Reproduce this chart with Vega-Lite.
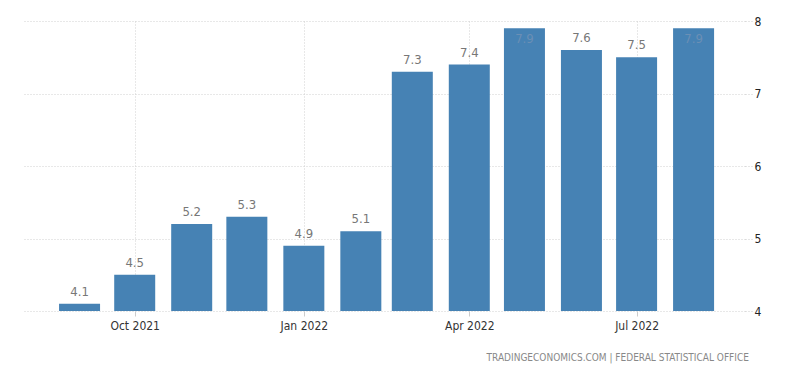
{
  "$schema": "https://vega.github.io/schema/vega-lite/v6.json",
  "width": 721,
  "height": 290,
  "autosize": "none",
  "padding": {"left": 24, "top": 21, "right": 55, "bottom": 62},
  "background": "white",
  "config": {
    "view": {"stroke": null},
    "font": "DejaVu Sans Condensed"
  },
  "title": {
    "text": "TRADINGECONOMICS.COM  |  FEDERAL STATISTICAL OFFICE",
    "orient": "bottom",
    "anchor": "end",
    "fontSize": 10,
    "fontWeight": "normal",
    "color": "#888888",
    "font": "DejaVu Sans Condensed",
    "offset": 22,
    "dx": -12
  },
  "data": {
    "values": [
      {"date": "2021-09-01", "value": 4.1},
      {"date": "2021-10-01", "value": 4.5},
      {"date": "2021-11-01", "value": 5.2},
      {"date": "2021-12-01", "value": 5.3},
      {"date": "2022-01-01", "value": 4.9},
      {"date": "2022-02-01", "value": 5.1},
      {"date": "2022-03-01", "value": 7.3},
      {"date": "2022-04-01", "value": 7.4},
      {"date": "2022-05-01", "value": 7.9},
      {"date": "2022-06-01", "value": 7.6},
      {"date": "2022-07-01", "value": 7.5},
      {"date": "2022-08-01", "value": 7.9}
    ]
  },
  "encoding": {
    "x": {
      "field": "date",
      "type": "temporal",
      "scale": {"domain": ["2021-08-04T12:00:00Z", "2022-08-26T06:00:00Z"]},
      "axis": {
        "title": null,
        "values": ["2021-10-01", "2022-01-01", "2022-04-01", "2022-07-01"],
        "format": "%b %Y",
        "labelFontSize": 12,
        "labelColor": "#333333",
        "labelPadding": 4,
        "domain": false,
        "ticks": true,
        "tickColor": "#cccccc",
        "tickSize": 5,
        "grid": true,
        "gridColor": "#d0d0d0",
        "gridDash": [1, 2],
        "labelFlush": false
      }
    },
    "y": {
      "field": "value",
      "type": "quantitative",
      "scale": {"domain": [4, 8], "nice": false, "zero": false},
      "axis": {
        "title": null,
        "orient": "right",
        "values": [4, 5, 6, 7, 8],
        "labelFontSize": 12,
        "labelColor": "#222222",
        "domain": false,
        "ticks": true,
        "tickSize": 7,
        "tickColor": "#cccccc",
        "tickDash": [1, 2],
        "labelPadding": 2,
        "grid": true,
        "gridColor": "#d0d0d0",
        "gridDash": [1, 2]
      }
    }
  },
  "layer": [
    {
      "mark": {"type": "bar", "width": 41, "color": "#4682b4", "clip": true}
    },
    {
      "transform": [{"filter": "datum.value < 7.8"}],
      "mark": {"type": "text", "baseline": "bottom", "dy": -5, "fontSize": 13, "color": "#777777"},
      "encoding": {"text": {"field": "value", "type": "quantitative", "format": ".1f"}}
    },
    {
      "transform": [{"filter": "datum.value >= 7.8"}],
      "mark": {"type": "text", "baseline": "top", "dy": 5, "fontSize": 13, "color": "#6b8fb5"},
      "encoding": {"text": {"field": "value", "type": "quantitative", "format": ".1f"}}
    }
  ]
}
